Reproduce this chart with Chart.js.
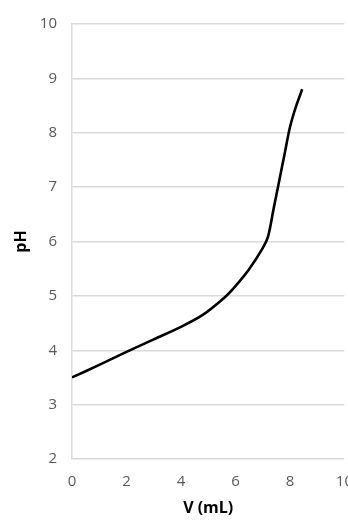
<!DOCTYPE html>
<html>
<head>
<meta charset="utf-8">
<script src="https://cdn.jsdelivr.net/npm/chart.js@4"></script>
<style>
  html, body { margin: 0; padding: 0; background: #fff; overflow: hidden; }
  #wrap { width: 348px; height: 521px; overflow: hidden; }
</style>
</head>
<body>
<div id="wrap"><canvas id="grafico" width="367" height="521"></canvas></div>
<script>
// Volumen añadido (mL) y pH
var volumen = [0, 1, 2, 3, 4, 4.8, 5.6, 6, 6.5, 7, 7.2, 7.4, 7.6, 7.8, 8.0, 8.2, 8.45];
var ph = [3.5, 3.73, 3.97, 4.2, 4.43, 4.65, 4.97, 5.18, 5.49, 5.88, 6.1, 6.6, 7.1, 7.6, 8.1, 8.45, 8.8];

var puntos = volumen.map(function (v, i) { return { x: v, y: ph[i] }; });

var fuente = "'Open Sans', 'DejaVu Sans', sans-serif";

var ctx = document.getElementById("grafico").getContext("2d");
var grafico = new Chart(ctx, {
    type: "scatter",
    data: {
        datasets: [{
            data: puntos,
            showLine: true,
            borderColor: "#000",
            borderWidth: 2.6,
            pointRadius: 0,
            tension: 0.3,
            fill: false
        }]
    },
    options: {
        responsive: false,
        animation: false,
        layout: { padding: { top: 22, left: 12, right: 0, bottom: 0 } },
        plugins: { legend: { display: false }, tooltip: { enabled: false } },
        scales: {
            x: {
                min: 0, max: 10,
                ticks: { stepSize: 2, color: "#595959", font: { family: fuente, size: 15 }, padding: 14 },
                grid: { display: false, drawTicks: false },
                border: { display: false },
                title: { display: true, text: "V (mL)", color: "#000", font: { family: fuente, size: 16, weight: "bold" }, padding: { top: 0, bottom: 3 } },
                afterFit: function (s) { s.height = 62; }
            },
            y: {
                min: 2, max: 10,
                ticks: { stepSize: 1, color: "#595959", font: { family: fuente, size: 15 }, padding: 15 },
                grid: { color: "#d9d9d9", lineWidth: 1.5, drawTicks: false },
                border: { display: true, color: "#d9d9d9", width: 1.5 },
                title: { display: true, text: "pH", color: "#000", font: { family: fuente, size: 16, weight: "bold" }, padding: 0 },
                afterFit: function (s) { s.width = 60; }
            }
        }
    }
});
</script>
</body>
</html>
